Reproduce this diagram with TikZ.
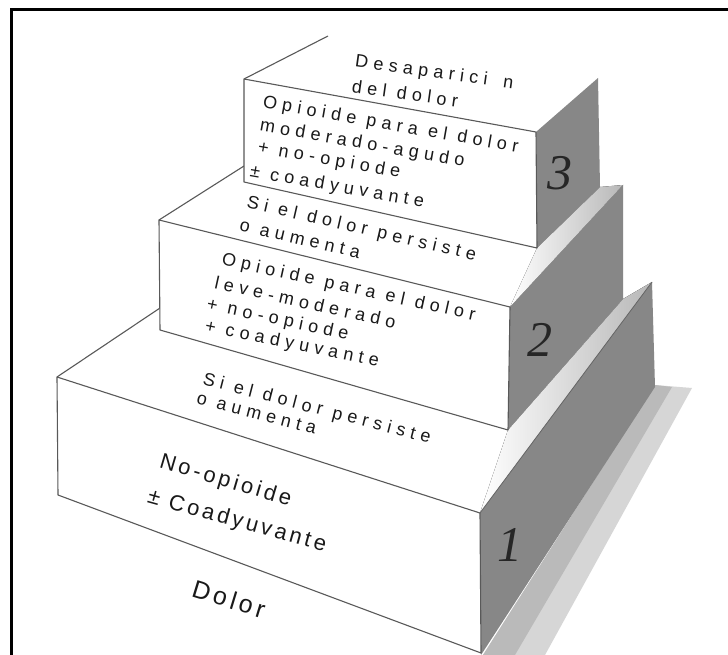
\documentclass[tikz,border=0pt]{standalone}
\usepackage{fontspec}
\newfontfamily\lblfont[LetterSpace=30]{Liberation Sans}
\newfontfamily\bigfont[LetterSpace=15]{Liberation Sans}
\newfontfamily\digitfont{Liberation Serif}
\begin{document}
\begin{tikzpicture}[x=1pt,y=-1pt,
  edge/.style={draw=black!65, line width=1.1pt, line join=round},
  side/.style={fill=black!47},
  topf/.style={fill=white},
  stripe/.style={left color=white, right color=black!28},
  lbl/.style={anchor=west, inner sep=0pt, font=\lblfont\fontsize{18}{20}\selectfont, text=black!90},
  big/.style={anchor=west, inner sep=0pt, font=\bigfont\fontsize{22}{24}\selectfont, text=black!90},
  num/.style={inner sep=0pt, font=\digitfont\itshape\fontsize{50}{50}\selectfont, text=black!85}
]
\useasboundingbox (0,0) rectangle (728,655);
\fill[white] (0,0) rectangle (728,655);
% ground shadow
\fill[black!16] (655,385) -- (692,388) -- (545,655) -- (483,655) -- cycle;
\fill[black!27] (655,385) -- (672,387) -- (515,655) -- (483,655) -- cycle;
% ---------- box 1 ----------
\fill[topf] (57,377) -- (230,260) -- (652,282) -- (480,513) -- cycle;
\fill[stripe] (508,430) -- (623,299) -- (652,282) -- (480,513) -- cycle;
\fill[side] (480,513) -- (652,282) -- (655,387) -- (481,655) -- cycle;
\draw[black!60, line width=0.8pt] (480,513) -- (652,282);
\filldraw[topf, edge] (58,495) -- (57,377) -- (480,513) -- (481,653) -- cycle;
\draw[edge] (57,377) -- (160,308);
% ---------- box 2 ----------
\fill[topf] (159,220) -- (300,127) -- (623,185) -- (510,307) -- cycle;
\fill[stripe] (537,248) -- (600,187) -- (623,185) -- (510,307) -- cycle;
\fill[side] (510,307) -- (623,185) -- (623,299) -- (508,430) -- cycle;
\filldraw[topf, edge] (159,220) -- (510,307) -- (508,430) -- (160,330) -- cycle;
\draw[edge] (159,220) -- (244,166);
% ---------- box 3 ----------
\fill[topf] (244,79) -- (328,36) -- (598,78) -- (536,132) -- cycle;
\fill[side] (536,132) -- (598,78) -- (600,187) -- (537,248) -- cycle;
\filldraw[topf, edge] (244,79) -- (536,132) -- (537,248) -- (244,182) -- cycle;
\draw[edge] (244,79) -- (328,36);
% frame
\draw[line width=3pt] (11.5,655) -- (11.5,9.5) -- (728,9.5);
% ---------- texts ----------
% box 3
\node[lbl, rotate=-8] (t3a) at (355,62) {Desaparici\hspace{16pt}n};
\node[lbl, rotate=-8] (t3b) at (352,86) {del dolor};
\node[lbl, rotate=-10] (t3c) at (263,103) {Opioide para el dolor};
\node[lbl, rotate=-10] (t3d) at (260,126) {moderado-agudo};
\node[lbl, rotate=-10] (t3e) at (258,148) {+ no-opiode};
\node[lbl, rotate=-10] (t3f) at (250,172) {± coadyuvante};
% box 2
\node[lbl, rotate=-13] (t2a) at (247,203) {Si el dolor persiste};
\node[lbl, rotate=-13] (t2b) at (240,225) {o aumenta};
\node[lbl, rotate=-12.5] (t2c) at (222,260) {Opioide para el dolor};
\node[lbl, rotate=-12.5] (t2d) at (215,282) {leve-moderado};
\node[lbl, rotate=-12] (t2e) at (207,305) {+ no-opiode};
\node[lbl, rotate=-11.5] (t2f) at (205,327) {+ coadyuvante};
% box 1
\node[lbl, rotate=-14.5] (t1a) at (203,380) {Si el dolor persiste};
\node[lbl, rotate=-14.5] (t1b) at (197,398) {o aumenta};
\node[big, rotate=-16.5] (t1c) at (160,462) {No-opioide};
\node[big, rotate=-15.5] (t1d) at (148,497) {± Coadyuvante};
\node[big, rotate=-17, font=\bigfont\fontsize{25}{27}\selectfont] (t0) at (193,588) {Dolor};
% numbers
\node[num] (n3) at (560,173) {3};
\node[num] (n2) at (540,340) {2};
\node[num] (n1) at (510,545) {1};
\end{tikzpicture}
\end{document}
